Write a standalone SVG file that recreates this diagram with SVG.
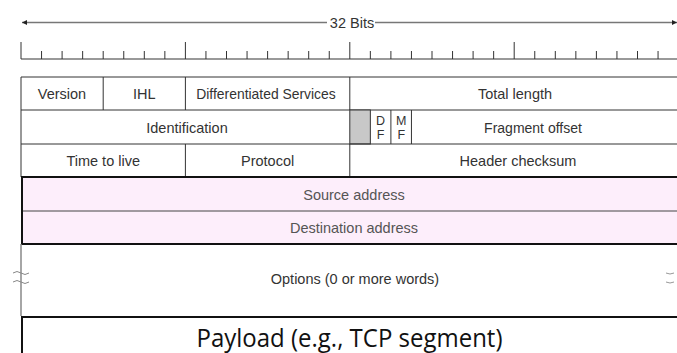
<svg xmlns="http://www.w3.org/2000/svg" width="677" height="353" viewBox="0 0 677 353">
<defs>
<style>
.t{font-family:"Liberation Sans",Arial,sans-serif;font-size:14.5px;fill:#333;text-anchor:middle}
.s{font-family:"Liberation Sans",Arial,sans-serif;font-size:12.5px;fill:#333;text-anchor:middle}
.g{stroke:#333;stroke-width:1;fill:none}
.th{stroke:#111;stroke-width:2;fill:none}
.tick{stroke:#333;stroke-width:1}
.ax{stroke:#777;stroke-width:1.5;fill:none}
</style>
<marker id="ah" viewBox="0 0 10 10" refX="10" refY="5" markerWidth="8" markerHeight="5" orient="auto-start-reverse" markerUnits="userSpaceOnUse"><path d="M0,0 L10,5 L0,10 z" fill="#222"/></marker>
</defs>
<rect width="677" height="353" fill="#fff"/>

<g id="bits-arrow">
<line class="ax" x1="22" y1="22.5" x2="327" y2="22.5" marker-start="url(#ah)"/>
<line class="ax" x1="375" y1="22.5" x2="677" y2="22.5" marker-end="url(#ah)"/>
<text class="t" x="352" y="27.5">32 Bits</text>
</g>

<g id="ruler">
<line x1="21" y1="59" x2="677" y2="59" stroke="#777" stroke-width="1.5"/>
<path class="tick" d="M21,42V59 M185.4,42V59 M349.8,42V59 M514.2,42V59
M41.55,51V59 M62.1,51V59 M82.65,51V59 M103.2,51V59 M123.75,51V59 M144.3,51V59 M164.85,51V59
M205.95,51V59 M226.5,51V59 M247.05,51V59 M267.6,51V59 M288.15,51V59 M308.7,51V59 M329.25,51V59
M370.35,51V59 M390.9,51V59 M411.45,51V59 M432,51V59 M452.55,51V59 M473.1,51V59 M493.65,51V59
M534.75,51V59 M555.3,51V59 M575.85,51V59 M596.4,51V59 M616.95,51V59 M637.5,51V59 M658.05,51V59"/>
</g>

<g id="row1">
<path class="g" d="M21,77H677 M21,77V110 M103.2,77V110 M185.4,77V110 M349.8,77V110"/>
<text class="t" x="62" y="99">Version</text>
<text class="t" x="144.3" y="99">IHL</text>
<text class="t" x="266" y="99" style="font-size:13.9px">Differentiated Services</text>
<text class="t" x="515" y="99">Total length</text>
</g>

<g id="row2">
<path class="g" d="M21,110H677 M21,110V144"/>
<rect x="349.8" y="110" width="20.55" height="34" fill="#c8c8c8" stroke="#333" stroke-width="1"/>
<path class="g" d="M390.9,110V144 M411.45,110V144"/>
<text class="t" x="187" y="132.5">Identification</text>
<text class="s" x="380.6" y="125">D</text>
<text class="s" x="380.6" y="139">F</text>
<text class="s" x="401.2" y="125">M</text>
<text class="s" x="401.2" y="139">F</text>
<text class="t" x="533" y="132.5" style="font-size:14px">Fragment offset</text>
</g>

<g id="row3">
<path class="g" d="M21,144H677 M21,144V177 M185.4,144V177 M349.8,144V177"/>
<text class="t" x="103.2" y="166">Time to live</text>
<text class="t" x="267.6" y="166">Protocol</text>
<text class="t" x="518" y="166">Header checksum</text>
</g>

<g id="source-address">
<rect x="22" y="178" width="660" height="33" fill="#fdeefb"/>
<text class="t" x="354" y="200" style="fill:#555">Source address</text>
</g>

<g id="destination-address">
<rect x="22" y="211" width="660" height="33" fill="#fdeefb"/>
<line x1="22" y1="211" x2="677" y2="211" stroke="#444" stroke-width="1"/>
<text class="t" x="354" y="233" style="fill:#555">Destination address</text>
</g>
<path class="th" d="M678,177H22V244H678"/>

<g id="options">
<line x1="21" y1="244" x2="21" y2="316" stroke="#888" stroke-width="1.5"/>
<path d="M13,273 q4,-3 8,0 t8,0 M13,282 q4,-3 8,0 t8,0" stroke="#888" stroke-width="1" fill="none"/>
<path d="M666,273 q4,2 8,0 M666,282 q4,2 8,0" stroke="#999" stroke-width="1" fill="none"/>
<text class="t" x="355" y="284">Options (0 or more words)</text>
</g>

<g id="payload">
<path class="th" d="M678,317H22V353"/>
<text x="349.5" y="347" font-family="'Open Sans','Noto Sans',sans-serif" font-size="25" fill="#111" text-anchor="middle" textLength="306" lengthAdjust="spacingAndGlyphs">Payload (e.g., TCP segment)</text>
</g>
</svg>
